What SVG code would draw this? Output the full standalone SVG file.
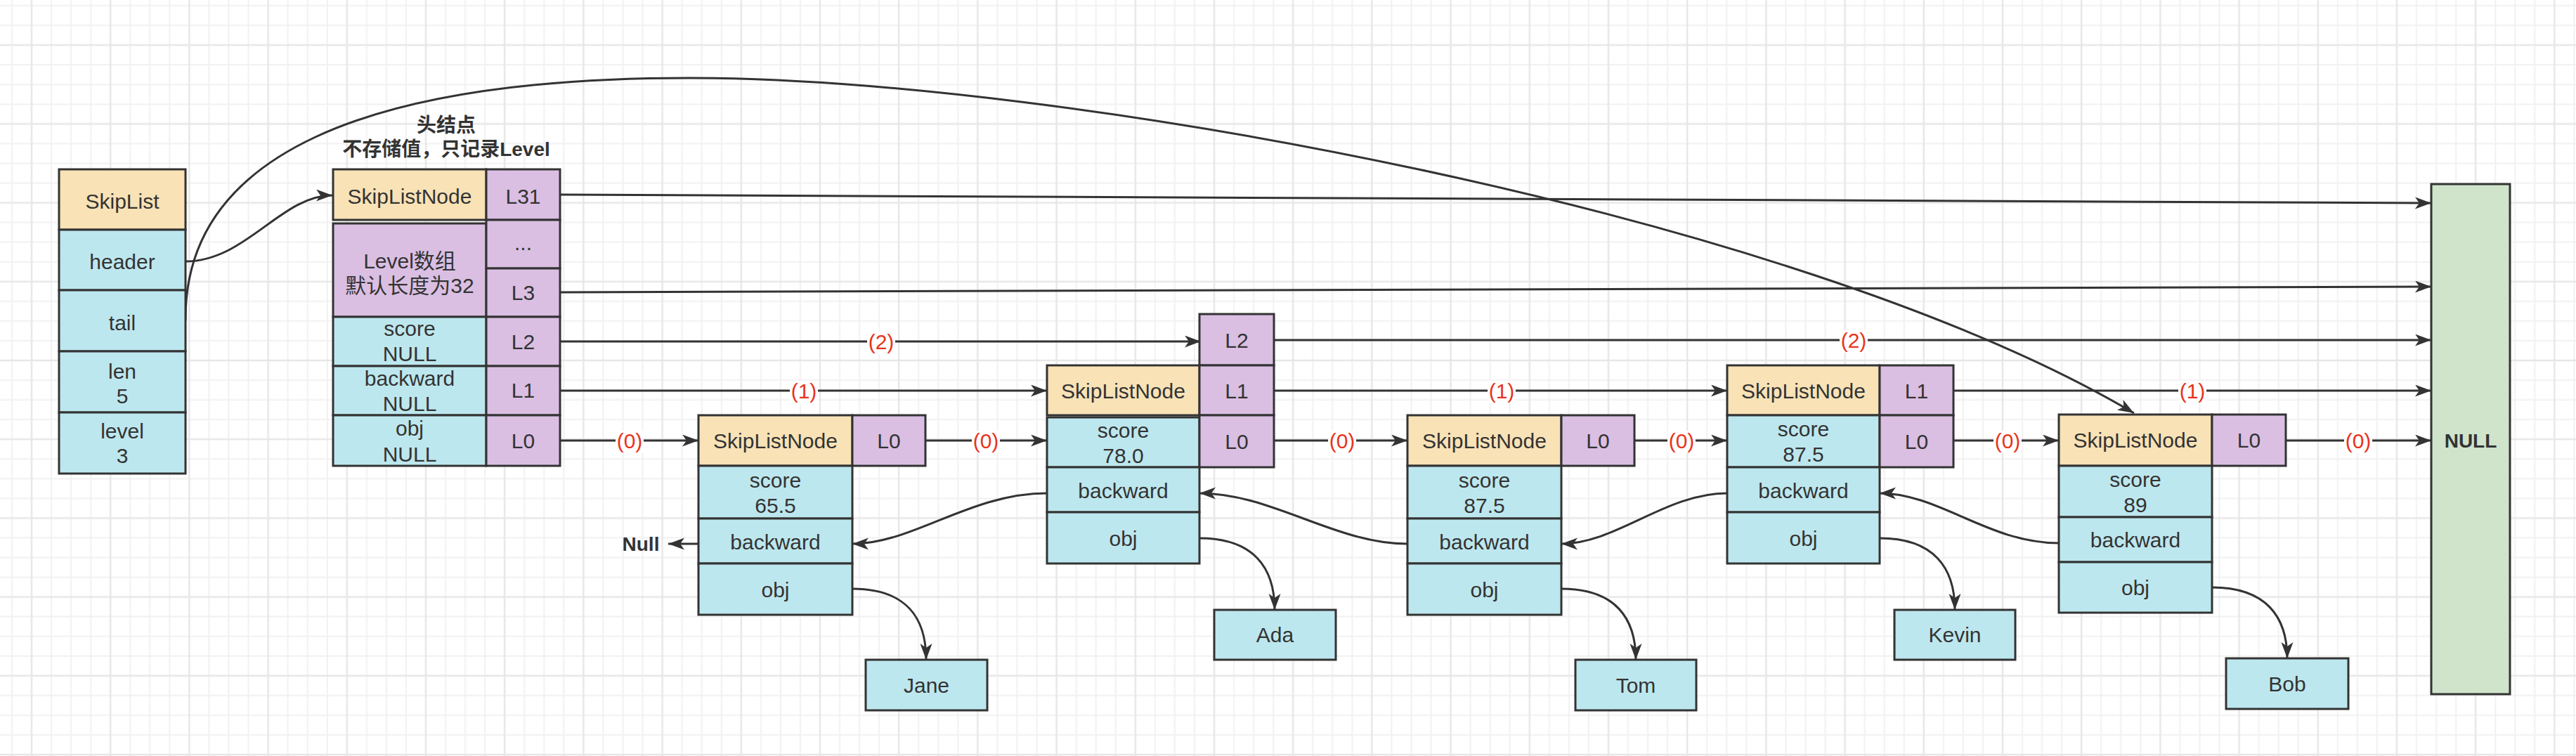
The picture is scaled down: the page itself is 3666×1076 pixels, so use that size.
<svg xmlns="http://www.w3.org/2000/svg" width="3666" height="1076" viewBox="0 0 3666 1076">
<defs>
<pattern id="grid" patternUnits="userSpaceOnUse" x="31" y="50.3" width="112.2" height="112.2">
<path d="M42.05,0V112.2M70.1,0V112.2M98.15,0V112.2M0,42.05H112.2M0,70.1H112.2M0,98.15H112.2" stroke="#f1f1f1" stroke-width="2" fill="none"/>
<path d="M14,0V112.2M0,14H112.2" stroke="#e7e7e7" stroke-width="2.5" fill="none"/>
</pattern>
<marker id="arr" markerUnits="userSpaceOnUse" markerWidth="24" markerHeight="18" refX="23" refY="8.5" orient="auto" viewBox="0 0 24 18">
<path d="M0,0L23,8.5L0,17L6,8.5Z" fill="#333333"/>
</marker>
<style>
.box{stroke:#333333;stroke-width:3}
.be{fill:#F8E2B6}
.bl{fill:#BDE7EE}
.pu{fill:#DABFE3}
.gr{fill:#CFE4CB}
.t{font-family:"Liberation Sans","Noto Sans CJK SC",sans-serif;font-size:30px;fill:#333333;text-anchor:middle}
.bd{font-weight:bold;font-size:28px}
.edge{fill:none;stroke:#333333;stroke-width:3;marker-end:url(#arr)}
.lbl{font-family:"Liberation Sans",sans-serif;font-size:30px;fill:#E8341C;text-anchor:middle}
.lbg{fill:#ffffff}
</style>
</defs>
<rect width="3666" height="1076" fill="#ffffff"/>
<rect width="3666" height="1076" fill="url(#grid)"/>

<g id="connectors">
<path class="edge" d="M797,277L3460,289"/>
<path class="edge" d="M797,416L3460,408"/>
<path class="edge" d="M797,486L1709,486"/>
<path class="edge" d="M1813,484L3460,484"/>
<path class="edge" d="M797,556L1490,556"/>
<path class="edge" d="M1813,556L2458,556"/>
<path class="edge" d="M2780,556L3460,556"/>
<path class="edge" d="M797,627L994,627"/>
<path class="edge" d="M1317,627L1490,627"/>
<path class="edge" d="M1813,627L2003,627"/>
<path class="edge" d="M2326,627L2458,627"/>
<path class="edge" d="M2780,627L2930,627"/>
<path class="edge" d="M3253,627L3460,627"/>
<path class="edge" d="M1490,702C1380,702 1300,774 1213,774"/>
<path class="edge" d="M2003,774C1900,774 1810,702 1707,702"/>
<path class="edge" d="M2458,702C2370,702 2300,774 2222,774"/>
<path class="edge" d="M2930,773C2830,773 2760,702 2675,702"/>
<path class="edge" d="M1213,838C1290,838 1318,880 1318,939"/>
<path class="edge" d="M1707,766C1784,766 1814,808 1814,868"/>
<path class="edge" d="M2222,838C2299,838 2328,880 2328,939"/>
<path class="edge" d="M2675,766C2752,766 2782,808 2782,868"/>
<path class="edge" d="M3148,836C3225,836 3255,878 3255,937"/>
<path class="edge" d="M994,774L951,774"/>
<path class="edge" d="M264,372C350,372 400,278 473,278"/>
<path class="edge" d="M264,456C262,220 520,111 982,111C1500,111 2550,300 3037,588"/>
<g id="edge-labels">
<rect class="lbg" x="1234" y="472" width="40" height="32"/><text class="lbl" x="1254" y="497">(2)</text>
<rect class="lbg" x="2618" y="470" width="40" height="32"/><text class="lbl" x="2638" y="495">(2)</text>
<rect class="lbg" x="1124" y="542" width="40" height="32"/><text class="lbl" x="1144" y="567">(1)</text>
<rect class="lbg" x="2117" y="542" width="40" height="32"/><text class="lbl" x="2137" y="567">(1)</text>
<rect class="lbg" x="3100" y="542" width="40" height="32"/><text class="lbl" x="3120" y="567">(1)</text>
<rect class="lbg" x="876" y="613" width="40" height="32"/><text class="lbl" x="896" y="638">(0)</text>
<rect class="lbg" x="1383" y="613" width="40" height="32"/><text class="lbl" x="1403" y="638">(0)</text>
<rect class="lbg" x="1890" y="613" width="40" height="32"/><text class="lbl" x="1910" y="638">(0)</text>
<rect class="lbg" x="2373" y="613" width="40" height="32"/><text class="lbl" x="2393" y="638">(0)</text>
<rect class="lbg" x="2837" y="613" width="40" height="32"/><text class="lbl" x="2857" y="638">(0)</text>
<rect class="lbg" x="3336" y="613" width="40" height="32"/><text class="lbl" x="3356" y="638">(0)</text>
</g>
</g>

<g id="skiplist">
<rect class="box be" x="84" y="241" width="180" height="86"/>
<rect class="box bl" x="84" y="327" width="180" height="86"/>
<rect class="box bl" x="84" y="413" width="180" height="87"/>
<rect class="box bl" x="84" y="500" width="180" height="87"/>
<rect class="box bl" x="84" y="587" width="180" height="87"/>
<text class="t" x="174" y="297">SkipList</text>
<text class="t" x="174" y="383">header</text>
<text class="t" x="174" y="470">tail</text>
<text class="t" x="174" y="539">len</text>
<text class="t" x="174" y="574">5</text>
<text class="t" x="174" y="624">level</text>
<text class="t" x="174" y="659">3</text>
</g>

<g id="header-label">
<text class="t bd" x="635" y="188">头结点</text>
<text class="t bd" x="635" y="222">不存储值，只记录Level</text>
</g>

<g id="header-node">
<rect class="box be" x="474" y="241" width="218" height="72"/>
<rect class="box pu" x="692" y="241" width="105" height="72"/>
<rect class="box pu" x="474" y="318" width="218" height="133"/>
<rect class="box pu" x="692" y="313" width="105" height="69"/>
<rect class="box pu" x="692" y="382" width="105" height="69"/>
<rect class="box bl" x="474" y="451" width="218" height="70"/>
<rect class="box pu" x="692" y="451" width="105" height="70"/>
<rect class="box bl" x="474" y="521" width="218" height="70"/>
<rect class="box pu" x="692" y="521" width="105" height="70"/>
<rect class="box bl" x="474" y="591" width="218" height="72"/>
<rect class="box pu" x="692" y="591" width="105" height="72"/>
<text class="t" x="583" y="290">SkipListNode</text>
<text class="t" x="744.5" y="290">L31</text>
<text class="t" x="583" y="382">Level数组</text>
<text class="t" x="583" y="417">默认长度为32</text>
<text class="t" x="744.5" y="356">...</text>
<text class="t" x="744.5" y="427">L3</text>
<text class="t" x="583" y="478">score</text>
<text class="t" x="583" y="514">NULL</text>
<text class="t" x="744.5" y="497">L2</text>
<text class="t" x="583" y="549">backward</text>
<text class="t" x="583" y="585">NULL</text>
<text class="t" x="744.5" y="566">L1</text>
<text class="t" x="583" y="620">obj</text>
<text class="t" x="583" y="657">NULL</text>
<text class="t" x="744.5" y="638">L0</text>
</g>

<g id="node-1">
<rect class="box be" x="994" y="591" width="219" height="72"/>
<rect class="box pu" x="1213" y="591" width="104" height="72"/>
<rect class="box bl" x="994" y="663" width="219" height="75"/>
<rect class="box bl" x="994" y="738" width="219" height="64"/>
<rect class="box bl" x="994" y="802" width="219" height="73"/>
<text class="t" x="1103.5" y="638">SkipListNode</text>
<text class="t" x="1265" y="638">L0</text>
<text class="t" x="1103.5" y="694">score</text>
<text class="t" x="1103.5" y="730">65.5</text>
<text class="t" x="1103.5" y="782">backward</text>
<text class="t" x="1103.5" y="850">obj</text>
</g>

<g id="node-2">
<rect class="box pu" x="1707" y="447" width="106" height="73"/>
<rect class="box be" x="1490" y="520" width="217" height="71"/>
<rect class="box pu" x="1707" y="520" width="106" height="71"/>
<rect class="box bl" x="1490" y="594" width="217" height="71"/>
<rect class="box pu" x="1707" y="591" width="106" height="74"/>
<rect class="box bl" x="1490" y="665" width="217" height="64"/>
<rect class="box bl" x="1490" y="729" width="217" height="73"/>
<text class="t" x="1760" y="495">L2</text>
<text class="t" x="1598.5" y="567">SkipListNode</text>
<text class="t" x="1760" y="567">L1</text>
<text class="t" x="1598.5" y="623">score</text>
<text class="t" x="1598.5" y="659">78.0</text>
<text class="t" x="1760" y="639">L0</text>
<text class="t" x="1598.5" y="709">backward</text>
<text class="t" x="1598.5" y="777">obj</text>
</g>

<g id="node-3">
<rect class="box be" x="2003" y="591" width="219" height="72"/>
<rect class="box pu" x="2222" y="591" width="104" height="72"/>
<rect class="box bl" x="2003" y="663" width="219" height="75"/>
<rect class="box bl" x="2003" y="738" width="219" height="64"/>
<rect class="box bl" x="2003" y="802" width="219" height="73"/>
<text class="t" x="2112.5" y="638">SkipListNode</text>
<text class="t" x="2274" y="638">L0</text>
<text class="t" x="2112.5" y="694">score</text>
<text class="t" x="2112.5" y="730">87.5</text>
<text class="t" x="2112.5" y="782">backward</text>
<text class="t" x="2112.5" y="850">obj</text>
</g>

<g id="node-4">
<rect class="box be" x="2458" y="520" width="217" height="71"/>
<rect class="box pu" x="2675" y="520" width="105" height="71"/>
<rect class="box bl" x="2458" y="591" width="217" height="74"/>
<rect class="box pu" x="2675" y="591" width="105" height="74"/>
<rect class="box bl" x="2458" y="665" width="217" height="64"/>
<rect class="box bl" x="2458" y="729" width="217" height="73"/>
<text class="t" x="2566.5" y="567">SkipListNode</text>
<text class="t" x="2727.5" y="567">L1</text>
<text class="t" x="2566.5" y="621">score</text>
<text class="t" x="2566.5" y="657">87.5</text>
<text class="t" x="2727.5" y="639">L0</text>
<text class="t" x="2566.5" y="709">backward</text>
<text class="t" x="2566.5" y="777">obj</text>
</g>

<g id="node-5">
<rect class="box be" x="2930" y="590" width="218" height="73"/>
<rect class="box pu" x="3148" y="590" width="105" height="73"/>
<rect class="box bl" x="2930" y="663" width="218" height="73"/>
<rect class="box bl" x="2930" y="736" width="218" height="64"/>
<rect class="box bl" x="2930" y="800" width="218" height="72"/>
<text class="t" x="3039" y="637">SkipListNode</text>
<text class="t" x="3200.5" y="637">L0</text>
<text class="t" x="3039" y="693">score</text>
<text class="t" x="3039" y="729">89</text>
<text class="t" x="3039" y="779">backward</text>
<text class="t" x="3039" y="847">obj</text>
</g>

<g id="val-jane"><rect class="box bl" x="1232" y="939" width="173" height="72"/><text class="t" x="1318.5" y="986">Jane</text></g>
<g id="val-ada"><rect class="box bl" x="1728" y="868" width="173" height="71"/><text class="t" x="1814.5" y="914">Ada</text></g>
<g id="val-tom"><rect class="box bl" x="2242" y="939" width="172" height="72"/><text class="t" x="2328" y="986">Tom</text></g>
<g id="val-kevin"><rect class="box bl" x="2696" y="868" width="172" height="71"/><text class="t" x="2782" y="914">Kevin</text></g>
<g id="val-bob"><rect class="box bl" x="3168" y="937" width="174" height="72"/><text class="t" x="3255" y="984">Bob</text></g>

<g id="null-box"><rect class="box gr" x="3460" y="262" width="112" height="726"/><text class="t bd" x="3516" y="637">NULL</text></g>
<g id="null-label"><text class="t bd" x="912" y="784">Null</text></g>
</svg>
